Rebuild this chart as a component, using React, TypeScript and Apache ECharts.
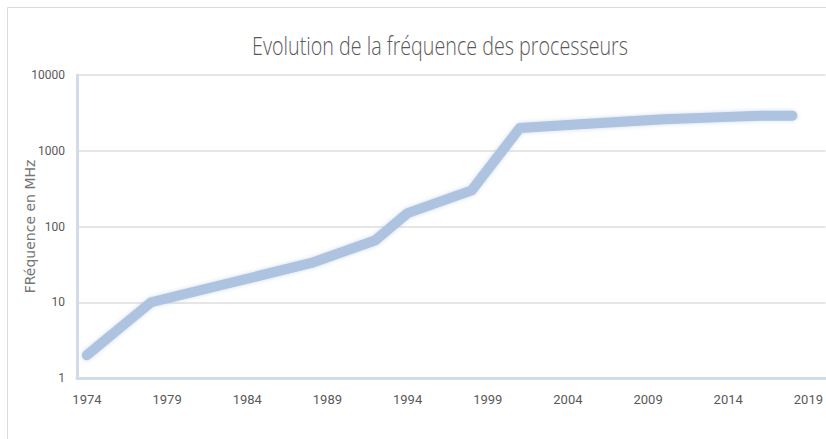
import React, { useEffect, useRef } from "react";
import * as echarts from "echarts";

const years = [1974, 1978, 1988, 1992, 1994, 1998, 2001, 2005, 2010, 2014, 2016, 2018];
const freqMHz = [2, 10, 33, 66, 150, 300, 2000, 2250, 2600, 2800, 2900, 2900];
const xTickLabels = [1974, 1979, 1984, 1989, 1994, 1999, 2004, 2009, 2014, 2019];
const yTickLabels = [1, 10, 100, 1000, 10000];
const titleText = "Evolution de la fréquence des processeurs";

const LABEL_FONT = "Roboto, 'Open Sans', sans-serif";
const TITLE_FONT = "'Open Sans', Roboto, sans-serif";
const TITLE_SIZE = 25;
const TITLE_WIDTH = 376;

function measure(text: string, font: string): number {
  const c = document.createElement("canvas").getContext("2d");
  if (!c) return TITLE_WIDTH;
  c.font = font;
  return c.measureText(text).width;
}

export default function App() {
  const ref = useRef<HTMLDivElement>(null);
  useEffect(() => {
    if (!ref.current) return;
    const chart = echarts.init(ref.current, undefined, { renderer: "svg" });
    const w = measure(titleText, `300 ${TITLE_SIZE}px ${TITLE_FONT}`);
    const sx = w > 0 ? TITLE_WIDTH / w : 1;
    chart.setOption({
      animation: false,
      backgroundColor: "#ffffff",
      graphic: [
        {
          type: "rect",
          shape: { x: 7.5, y: 7.5, width: 840, height: 460 },
          style: { fill: "none", stroke: "#dcdcdc", lineWidth: 1 },
          silent: true,
        },
        {
          type: "text",
          x: 440,
          y: 46,
          scaleX: sx,
          scaleY: 1,
          style: {
            x: 0,
            y: 0,
            text: titleText,
            align: "center",
            verticalAlign: "middle",
            font: `300 ${TITLE_SIZE}px ${TITLE_FONT}`,
            fill: "#595959",
          },
          silent: true,
        },
      ],
      grid: { left: 77, right: 0, top: 75, bottom: 61, containLabel: false },
      xAxis: {
        type: "value",
        min: 1973.38,
        max: 2020.07,
        axisLine: { show: true, lineStyle: { color: "#d2dbe8", width: 3 } },
        axisTick: { show: false },
        splitLine: { show: false },
        axisLabel: {
          customValues: xTickLabels,
          formatter: (v: number) => String(v),
          margin: 15,
          fontFamily: LABEL_FONT,
          fontSize: 13,
          color: "#595959",
          showMinLabel: true,
          showMaxLabel: true,
        },
      },
      yAxis: {
        type: "log",
        logBase: 10,
        min: 1,
        max: 10000,
        name: "FRéquence en MHz",
        nameLocation: "middle",
        nameGap: 40,
        nameMoveOverlap: false,
        nameTextStyle: { fontFamily: "'DejaVu Sans', sans-serif", fontSize: 14, color: "#767676" },
        axisLine: { show: true, lineStyle: { color: "#d2dbe8", width: 3 } },
        axisTick: { show: false },
        splitLine: { show: true, lineStyle: { color: "#dedede", width: 1.5 } },
        axisLabel: {
          customValues: yTickLabels,
          formatter: (v: number) => String(Math.round(v)),
          margin: 12,
          fontFamily: LABEL_FONT,
          fontSize: 12,
          color: "#595959",
        },
      },
      series: [
        {
          type: "line",
          data: years.map((y, i) => [y, freqMHz[i]]),
          showSymbol: false,
          symbol: "none",
          lineStyle: {
            color: "#adc3e0",
            width: 10,
            cap: "round",
            join: "round",
            shadowBlur: 4,
            shadowColor: "rgba(173,195,224,0.6)",
          },
        },
      ],
    });
    return () => chart.dispose();
  }, []);
  return (
    <div
      ref={ref}
      style={{ position: "fixed", left: 0, top: 0, width: 826, height: 439 }}
    />
  );
}
